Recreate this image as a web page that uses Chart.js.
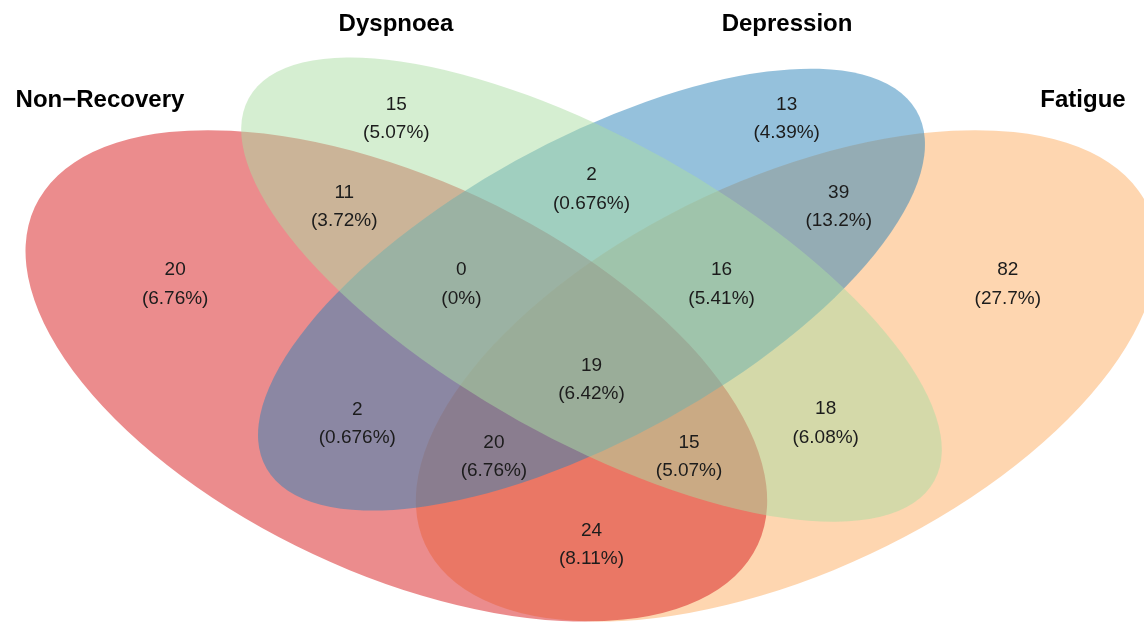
<!DOCTYPE html>
<html>
<head>
<meta charset="utf-8">
<script src="https://cdn.jsdelivr.net/npm/chart.js@4.4.1/dist/chart.umd.min.js"></script>
<style>
  html, body { margin: 0; padding: 0; background: #fff; }
  #wrap { width: 1144px; height: 623px; position: relative; }
</style>
</head>
<body>
<div id="wrap"><canvas id="chart"></canvas></div>
<script>
/* DATOS */
const setNames = ["Non−Recovery", "Dyspnoea", "Depression", "Fatigue"];

// one entry per region of the diagram
const regionNames = [
  "Dyspnoea", "Depression", "Non−Recovery & Dyspnoea", "Dyspnoea & Depression",
  "Depression & Fatigue", "Non−Recovery", "Non−Recovery & Dyspnoea & Depression",
  "Dyspnoea & Depression & Fatigue", "Fatigue", "All four",
  "Non−Recovery & Depression", "Non−Recovery & Depression & Fatigue",
  "Non−Recovery & Dyspnoea & Fatigue", "Dyspnoea & Fatigue", "Non−Recovery & Fatigue"
];
const regionCounts = [15, 13, 11, 2, 39, 20, 0, 16, 82, 19, 2, 20, 15, 18, 24];
const regionPercents = ["5.07%", "4.39%", "3.72%", "0.676%", "13.2%", "6.76%", "0%",
  "5.41%", "27.7%", "6.42%", "0.676%", "6.76%", "5.07%", "6.08%", "8.11%"];

/* LAYOUT (unit square, like the R VennDiagram quad layout) */
const regionPos = [
  [0.35, 0.77], [0.65, 0.77], [0.31, 0.668], [0.5, 0.688], [0.69, 0.668],
  [0.18, 0.578], [0.40, 0.578], [0.60, 0.578], [0.82, 0.578], [0.5, 0.467],
  [0.32, 0.416], [0.425, 0.378], [0.575, 0.378], [0.68, 0.417], [0.5, 0.276]
];
const titlePos = [[0.1222, 0.7819], [0.3497, 0.8701], [0.6503, 0.8701], [0.8778, 0.7819]];

// drawn bottom to top
const ellipses = [
  { set: 3, x: 0.65, y: 0.47, a: 0.35, b: 0.20, rot: 45,  color: "rgba(253,174,97,0.5)" },
  { set: 0, x: 0.35, y: 0.47, a: 0.35, b: 0.20, rot: 135, color: "rgba(215,25,28,0.5)" },
  { set: 2, x: 0.50, y: 0.57, a: 0.33, b: 0.15, rot: 45,  color: "rgba(43,131,186,0.5)" },
  { set: 1, x: 0.50, y: 0.57, a: 0.35, b: 0.15, rot: 135, color: "rgba(171,221,164,0.5)" }
];

/* PLUGIN ELIPSES + TEXTOS */
const vennPlugin = {
  id: "venn",
  beforeDatasetsDraw(chart) {
    const { ctx, scales } = chart;
    const xs = scales.x, ys = scales.y;
    ellipses.forEach(e => {
      const cx = xs.getPixelForValue(e.x);
      const cy = ys.getPixelForValue(e.y);
      const sx = xs.getPixelForValue(e.x + 1) - cx;
      const sy = ys.getPixelForValue(e.y + 1) - cy;
      ctx.save();
      ctx.translate(cx, cy);
      ctx.scale(sx, sy);
      ctx.rotate(e.rot * Math.PI / 180);
      ctx.beginPath();
      ctx.ellipse(0, 0, e.a, e.b, 0, 0, Math.PI * 2);
      ctx.restore();
      ctx.fillStyle = e.color;
      ctx.fill();
    });
  },
  afterDatasetsDraw(chart) {
    const ctx = chart.ctx;
    const regions = chart.getDatasetMeta(0).data;
    const titles = chart.getDatasetMeta(1).data;
    ctx.save();
    ctx.textAlign = "center";
    ctx.textBaseline = "alphabetic";
    ctx.fillStyle = "#1c1c1c";
    ctx.font = "19px 'Liberation Sans', Arial, sans-serif";
    regions.forEach((p, i) => {
      ctx.fillText(String(regionCounts[i]), p.x, p.y - 7.5);
      ctx.fillText("(" + regionPercents[i] + ")", p.x, p.y + 21);
    });
    ctx.fillStyle = "#000";
    ctx.font = "bold 24px 'Liberation Sans', Arial, sans-serif";
    titles.forEach((p, i) => {
      ctx.fillText(setNames[i], p.x, p.y);
    });
    ctx.restore();
  }
};

/* GRAFICO */
const chart = new Chart(document.getElementById("chart"), {
  type: "scatter",
  data: {
    datasets: [
      {
        label: "regions",
        data: regionPos.map((p, i) => ({ x: p[0], y: p[1], name: regionNames[i] })),
        pointRadius: 0
      },
      {
        label: "sets",
        data: titlePos.map(p => ({ x: p[0], y: p[1] })),
        pointRadius: 0
      }
    ]
  },
  options: {
    responsive: true,
    maintainAspectRatio: false,
    animation: false,
    layout: { padding: 0 },
    scales: {
      x: { type: "linear", display: false, min: 59 / 1301, max: 1203 / 1301 },
      y: { type: "linear", display: false, min: 158 / 862, max: 781 / 862 }
    },
    plugins: {
      legend: { display: false },
      tooltip: { enabled: false }
    }
  },
  plugins: [vennPlugin]
});
</script>
</body>
</html>
